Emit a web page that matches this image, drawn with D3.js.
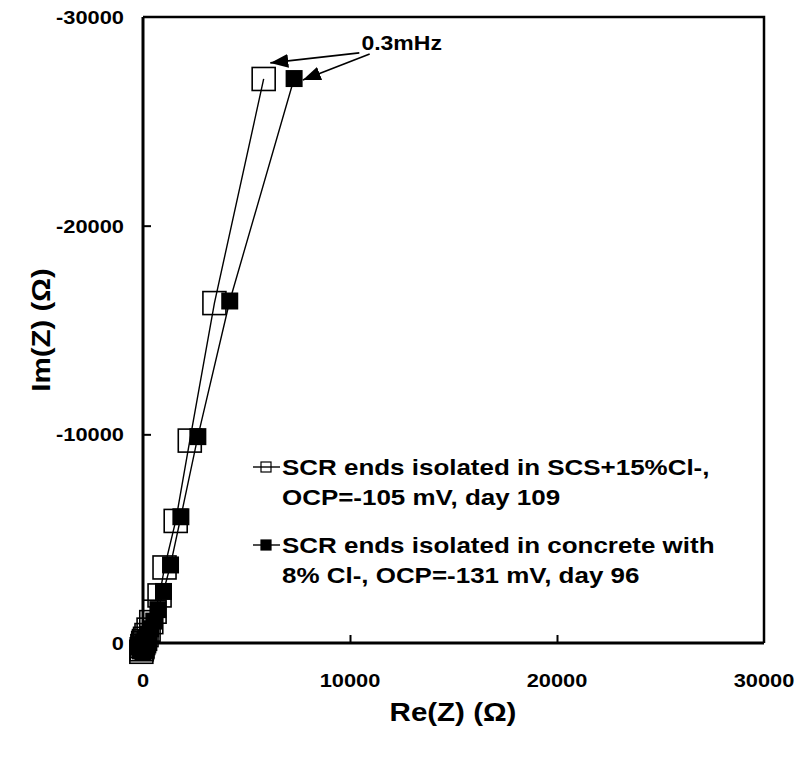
<!DOCTYPE html>
<html>
<head>
<meta charset="utf-8">
<script src="https://cdn.jsdelivr.net/npm/d3@7"></script>
<style>
  body { margin: 0; background: #fff; }
  svg text { font-family: "Liberation Sans", Arial, sans-serif; font-weight: bold; fill: #000; }
</style>
</head>
<body>
<script>
//series 1: open squares, SCS+15%Cl-
var reZ1 = [5830, 3450, 2260, 1580, 1040, 800, 560, 400, 270, 170, 100, 50, 10, -30, -60, -80];
var imZ1 = [-27030, -16290, -9700, -5850, -3620, -2280, -1500, -1000, -640, -380, -200, -90, 0, 150, 300, 420];
//series 2: filled squares, concrete with 8% Cl-
var reZ2 = [7300, 4190, 2650, 1830, 1330, 990, 720, 520, 370, 250, 160, 90, 30, -20, -40, -60, -80, -100, -120, 0, 150];
var imZ2 = [-27050, -16390, -9890, -6050, -3740, -2470, -1600, -1050, -680, -420, -250, -130, -40, 60, 120, 170, 230, 280, 380, 420, 380];

var xTicks = [0, 10000, 20000, 30000];
var yTicks = [0, -10000, -20000, -30000];

var legendLabels = [
    ["SCR ends isolated in SCS+15%Cl-,", "OCP=-105 mV, day 109"],
    ["SCR ends isolated in concrete with", "8% Cl-, OCP=-131 mV, day 96"]
];

//annotation: label position and arrow start/end in data units
var noteText = "0.3mHz";
var notePos = [10550, -28420];
var arrowFrom = [[10450, -28280], [10950, -28230]];
var arrowTo = [[6150, -27800], [7720, -26980]];

window.onload = draw();

function draw(){
    var width = 799,
        height = 757,
        stretch = 1.18; //text in the original is drawn wider than the font

    var svg = d3.select("body")
        .append("svg")
        .attr("width", width)
        .attr("height", height);

    var x = d3.scaleLinear().domain([0, 30000]).range([143, 764]);
    var y = d3.scaleLinear().domain([0, -30000]).range([643, 17]);

    //helper for horizontally stretched text
    function label(g, px, py, size, anchor, str){
        return g.append("text")
            .attr("transform", "translate(" + px + "," + py + ") scale(" + stretch + ",1)")
            .attr("text-anchor", anchor)
            .attr("font-size", size)
            .text(str);
    }

    var defs = svg.append("defs");
    defs.append("marker")
        .attr("id", "head")
        .attr("viewBox", "0 0 18 14")
        .attr("refX", 18)
        .attr("refY", 7)
        .attr("markerWidth", 18)
        .attr("markerHeight", 14)
        .attr("markerUnits", "userSpaceOnUse")
        .attr("orient", "auto")
        .append("path")
        .attr("d", "M0,0 L18,7 L0,14 Z")
        .attr("fill", "#000");

    //frame (top and right)
    svg.append("path")
        .attr("d", "M" + x(0) + "," + y(-30000) + "H" + x(30000) + "V" + y(0))
        .attr("fill", "none")
        .attr("stroke", "#000")
        .attr("stroke-width", 2.5);

    //axes, ticks point inward
    var xAxis = d3.axisTop(x).tickValues(xTicks.slice(1, 3)).tickSize(8).tickFormat("");
    var yAxis = d3.axisRight(y).tickValues(yTicks.slice(1, 3)).tickSize(8).tickFormat("");

    var gx = svg.append("g").attr("transform", "translate(0," + y(0) + ")").call(xAxis);
    var gy = svg.append("g").attr("transform", "translate(" + x(0) + ",0)").call(yAxis);

    [gx, gy].forEach(function(g){
        g.select(".domain").attr("d", null);
        g.selectAll(".tick line").attr("stroke", "#000").attr("stroke-width", 2);
    });

    svg.append("line")
        .attr("x1", x(0)).attr("x2", x(30000))
        .attr("y1", y(0)).attr("y2", y(0))
        .attr("stroke", "#000").attr("stroke-width", 3);
    svg.append("line")
        .attr("x1", x(0)).attr("x2", x(0))
        .attr("y1", y(0) + 1.5).attr("y2", y(-30000))
        .attr("stroke", "#000").attr("stroke-width", 3);

    //tick labels
    xTicks.forEach(function(d){
        label(svg, x(d), 687, 18.5, "middle", String(d));
    });
    yTicks.forEach(function(d){
        label(svg, 124, y(d) + 7, 18.5, "end", String(d));
    });

    //axis titles
    label(svg, 453, 721, 25, "middle", "Re(Z) (Ω)");
    svg.append("text")
        .attr("transform", "translate(50,330) rotate(-90) scale(" + stretch + ",1)")
        .attr("text-anchor", "middle")
        .attr("font-size", 25)
        .text("Im(Z) (Ω)");

    var line = d3.line()
        .x(function(d){ return x(d[0]); })
        .y(function(d){ return y(d[1]); });

    var s1 = d3.zip(reZ1, imZ1),
        s2 = d3.zip(reZ2, imZ2);

    //series 1: open squares
    svg.append("path")
        .datum(s1)
        .attr("d", line)
        .attr("fill", "none")
        .attr("stroke", "#000")
        .attr("stroke-width", 1.4);
    svg.selectAll(".open")
        .data(s1)
        .enter()
        .append("rect")
        .attr("x", function(d){ return x(d[0]) - 11.5; })
        .attr("y", function(d){ return y(d[1]) - 11.5; })
        .attr("width", 23)
        .attr("height", 23)
        .attr("fill", "none")
        .attr("stroke", "#000")
        .attr("stroke-width", 1.6);

    //series 2: filled squares
    svg.append("path")
        .datum(s2)
        .attr("d", line)
        .attr("fill", "none")
        .attr("stroke", "#000")
        .attr("stroke-width", 1.4);
    svg.selectAll(".filled")
        .data(s2)
        .enter()
        .append("rect")
        .attr("x", function(d){ return x(d[0]) - 8.5; })
        .attr("y", function(d){ return y(d[1]) - 8.5; })
        .attr("width", 17)
        .attr("height", 17)
        .attr("fill", "#000");

    //annotation
    label(svg, x(notePos[0]), y(notePos[1]), 19.5, "start", noteText);
    svg.selectAll(".arrow")
        .data(d3.zip(arrowFrom, arrowTo))
        .enter()
        .append("line")
        .attr("x1", function(d){ return x(d[0][0]); })
        .attr("y1", function(d){ return y(d[0][1]); })
        .attr("x2", function(d){ return x(d[1][0]); })
        .attr("y2", function(d){ return y(d[1][1]); })
        .attr("stroke", "#000")
        .attr("stroke-width", 1.6)
        .attr("marker-end", "url(#head)");

    //legend
    var legend = svg.selectAll(".legend")
        .data(legendLabels)
        .enter()
        .append("g")
        .attr("transform", function(d, i){ return "translate(253," + (467 + i * 78) + ")"; });
    legend.append("line")
        .attr("x1", 0)
        .attr("x2", 27)
        .attr("stroke", "#000")
        .attr("stroke-width", 1.4);
    legend.append("rect")
        .attr("x", 8)
        .attr("y", -5)
        .attr("width", 10)
        .attr("height", 10)
        .attr("fill", function(d, i){ return i === 0 ? "none" : "#000"; })
        .attr("stroke", "#000")
        .attr("stroke-width", 1.2);
    legend.each(function(d){
        var g = d3.select(this);
        label(g, 29, 8, 22, "start", d[0]);
        label(g, 29, 38, 22, "start", d[1]);
    });
}
</script>
</body>
</html>
